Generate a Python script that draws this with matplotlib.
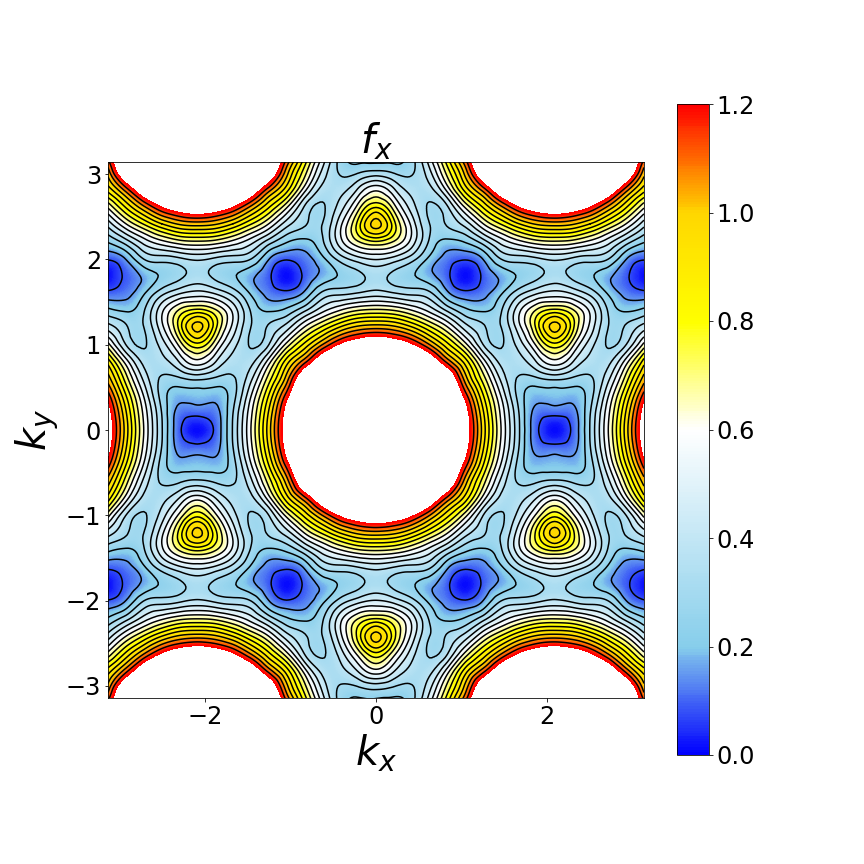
import numpy as np
import matplotlib
matplotlib.use("Agg")
import matplotlib.pyplot as plt
import matplotlib.tri as mtri
from matplotlib.colors import LinearSegmentedColormap

# Values read off the picture on the cell x = 0..2.094, y = 0..3.224
# one row per y step, one column per x step
x_step = np.pi / 15
y_step = 0.2015
cell_values = [
    [2.70, 2.60, 2.32, 2.00, 1.65, 1.29, 0.94, 0.60, 0.31, 0.09, 0.01],
    [2.60, 2.50, 2.25, 1.95, 1.60, 1.26, 0.91, 0.58, 0.30, 0.12, 0.10],
    [2.35, 2.27, 2.08, 1.83, 1.49, 1.16, 0.83, 0.52, 0.27, 0.18, 0.19],
    [2.04, 1.98, 1.82, 1.59, 1.36, 1.01, 0.71, 0.43, 0.29, 0.29, 0.32],
    [1.69, 1.65, 1.52, 1.34, 1.09, 0.86, 0.56, 0.35, 0.345, 0.46, 0.58],
    [1.35, 1.31, 1.21, 1.04, 0.84, 0.62, 0.37, 0.29, 0.41, 0.63, 0.81],
    [1.015, 0.99, 0.90, 0.76, 0.60, 0.41, 0.31, 0.30, 0.50, 0.78, 1.00],
    [0.68, 0.66, 0.59, 0.49, 0.35, 0.24, 0.21, 0.29, 0.50, 0.68, 0.76],
    [0.40, 0.37, 0.345, 0.31, 0.16, 0.09, 0.12, 0.21, 0.34, 0.43, 0.47],
    [0.325, 0.28, 0.235, 0.17, 0.09, 0.01, 0.09, 0.17, 0.235, 0.28, 0.325],
    [0.47, 0.43, 0.34, 0.21, 0.12, 0.09, 0.16, 0.31, 0.345, 0.37, 0.40],
    [0.76, 0.68, 0.50, 0.29, 0.21, 0.24, 0.35, 0.49, 0.59, 0.66, 0.68],
    [1.00, 0.78, 0.50, 0.30, 0.31, 0.41, 0.60, 0.76, 0.90, 0.99, 1.015],
    [0.81, 0.63, 0.41, 0.29, 0.37, 0.62, 0.84, 1.04, 1.21, 1.31, 1.35],
    [0.58, 0.46, 0.345, 0.35, 0.56, 0.86, 1.09, 1.34, 1.52, 1.65, 1.69],
    [0.32, 0.29, 0.29, 0.43, 0.71, 1.01, 1.36, 1.59, 1.82, 1.98, 2.04],
    [0.19, 0.18, 0.27, 0.52, 0.83, 1.16, 1.49, 1.83, 2.08, 2.27, 2.35],
]
x_ticks = [-2, 0, 2]
y_ticks = [-3, -2, -1, 0, 1, 2, 3]
cbar_ticks = [0.0, 0.2, 0.4, 0.6, 0.8, 1.0, 1.2]

# The picture is mirrored in both axes and around x = 2.094
cell = np.array(cell_values)
quadrant = np.hstack([cell, cell[:, 9:4:-1]])
top = np.hstack([quadrant[:, :0:-1], quadrant])
field = np.vstack([top[:0:-1], top])

x = x_step * np.arange(-15, 16)
y = y_step * np.arange(-16, 17)
xx, yy = np.meshgrid(x, y)

# matplotlib's own refiner, only so the contours are not cut into straight pieces
triang = mtri.Triangulation(xx.ravel(), yy.ravel())
fine_tri, fine_z = mtri.UniformTriRefiner(triang).refine_field(field.ravel(), subdiv=3)
fine_z = np.maximum(fine_z, 0.001)

cmap = LinearSegmentedColormap.from_list(
    "fx",
    [(0, "blue"), (1 / 6, "skyblue"), (1 / 2, "white"), (2 / 3, "yellow"), (5 / 6, "gold"), (1, "red")],
    N=256,
)

fig = plt.figure(figsize=(12, 12), dpi=72)
ax = fig.add_axes([108 / 864, 1 - 698 / 864, 536 / 864, 536 / 864])
cax = fig.add_axes([677 / 864, 1 - 755 / 864, 32 / 864, 651 / 864])

filled = ax.tricontourf(fine_tri, fine_z, levels=np.linspace(0, 1.2, 241), cmap=cmap, vmin=0, vmax=1.2)
ax.tricontour(fine_tri, fine_z, levels=np.arange(0.075, 1.2, 0.075), colors="black", linewidths=1.5)

ax.set_xlim(-np.pi, np.pi)
ax.set_ylim(-np.pi, np.pi)
ax.set_xticks(x_ticks)
ax.set_yticks(y_ticks)
ax.tick_params(labelsize=24)
ax.set_xlabel("$k_x$", fontsize=40)
ax.set_ylabel("$k_y$", fontsize=40)
ax.set_title("$f_x$", fontsize=40)

cbar = fig.colorbar(filled, cax=cax, ticks=cbar_ticks)
cbar.ax.tick_params(labelsize=24)
cbar.ax.set_yticklabels([f"{t:.1f}" for t in cbar_ticks])

plt.savefig("out.png", dpi=72)
plt.close()
